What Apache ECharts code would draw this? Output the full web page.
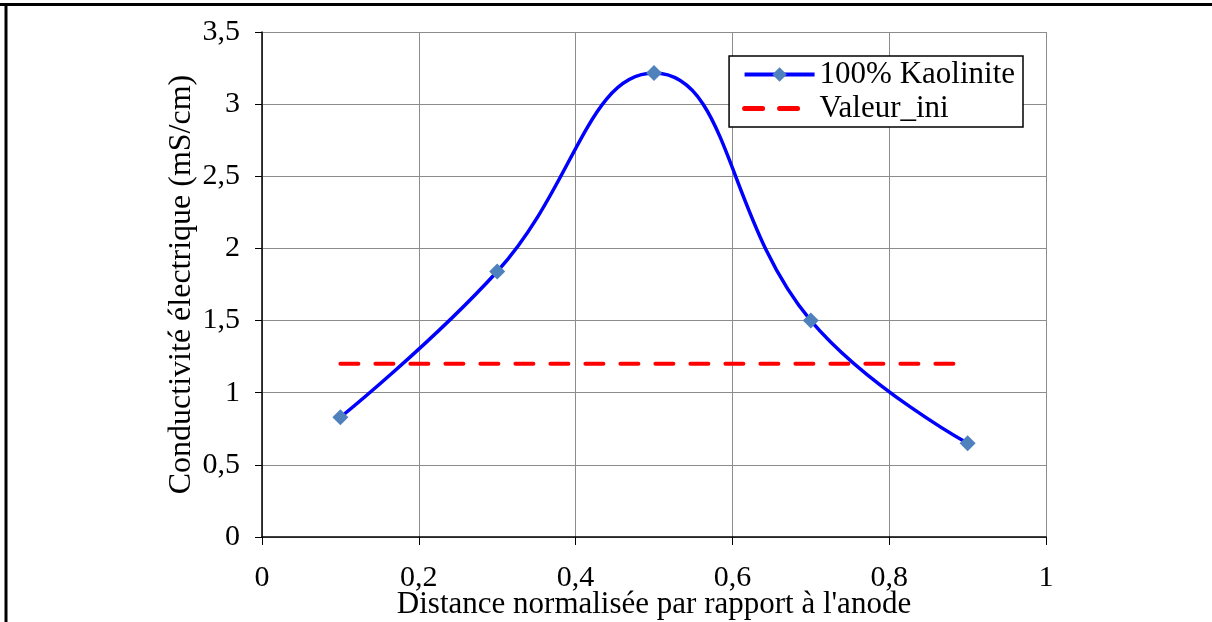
<!DOCTYPE html>
<html><head><meta charset="utf-8">
<script src="https://cdn.jsdelivr.net/npm/echarts@6/dist/echarts.min.js"></script>
<style>html,body{margin:0;padding:0;background:#fff}#c{width:1212px;height:622px}</style>
</head><body><div id="c"></div>
<script>
const xValues = [0.1, 0.3, 0.5, 0.7, 0.9];
const kaoliniteValues = [0.83, 1.84, 3.215, 1.50, 0.65];
const valeurIniValues = [1.20, 1.20];
const valeurIniX = [0.1, 0.9];
const seriesNames = ['100% Kaolinite', 'Valeur_ini'];
const xTitle = "Distance normalisée par rapport à l'anode";
const yTitle = 'Conductivité électrique (mS/cm)';

const fmt = v => String(Math.round(v*10)/10).replace('.', ',');
const font = 'Liberation Serif';
const chart = echarts.init(document.getElementById('c'), null, {renderer:'canvas'});
chart.setOption({
  animation:false,
  backgroundColor:'#fff',
  grid:{left:262,right:166,top:32,bottom:85,show:false,containLabel:false,outerBoundsMode:'none'},
  graphic:[
    {type:'line',shape:{x1:0,y1:4.5,x2:1212,y2:4.5},style:{stroke:'#000',lineWidth:3}},
    {type:'line',shape:{x1:6,y1:3,x2:6,y2:622},style:{stroke:'#000',lineWidth:3}}
  ],
  legend:{
    right:189, top:56, orient:'vertical', itemGap:3,
    backgroundColor:'#fff', borderColor:'#000', borderWidth:1.5,
    padding:[3,8,3,13], itemWidth:70, itemHeight:18,
    textStyle:{fontFamily:font,fontSize:31,color:'#000'},
    data:[
      {name:seriesNames[0], lineStyle:{width:4}},
      {name:seriesNames[1], itemStyle:{opacity:0}, lineStyle:{width:5,type:[18,17],cap:'round'}}
    ]
  },
  xAxis:{
    type:'value', min:0, max:1, interval:0.2,
    name:xTitle, nameLocation:'middle', nameGap:52, nameMoveOverlap:false,
    nameTextStyle:{fontFamily:font,fontSize:31,color:'#000'},
    axisLine:{show:true,lineStyle:{color:'#000',width:1.5}},
    axisTick:{show:true,length:8,inside:false,lineStyle:{color:'#000'}},
    axisLabel:{fontFamily:font,fontSize:30,color:'#000',margin:26,formatter:fmt},
    splitLine:{show:true,lineStyle:{color:'#8c8c8c',width:1}}
  },
  yAxis:{
    type:'value', min:0, max:3.5, interval:0.5,
    name:yTitle, nameLocation:'middle', nameGap:64, nameRotate:90, nameMoveOverlap:false,
    nameTextStyle:{fontFamily:font,fontSize:32,color:'#000'},
    axisLine:{show:true,lineStyle:{color:'#000',width:1.5}},
    axisTick:{show:true,length:7,inside:false,lineStyle:{color:'#000'}},
    axisLabel:{fontFamily:font,fontSize:30,color:'#000',margin:22,formatter:fmt},
    splitLine:{show:true,lineStyle:{color:'#8c8c8c',width:1}}
  },
  series:[
    {
      name:seriesNames[0], type:'line', smooth:0.45,
      data:xValues.map((x,i)=>[x,kaoliniteValues[i]]),
      symbol:'diamond', symbolSize:16,
      lineStyle:{color:'#0000ff',width:3.5},
      itemStyle:{color:'#4f81bd'},
      z:3
    },
    {
      name:seriesNames[1], type:'line',
      data:valeurIniX.map((x,i)=>[x,valeurIniValues[i]]),
      symbol:'none',
      lineStyle:{color:'#ff0000',width:4,type:[18,17],cap:'round'},
      itemStyle:{color:'#ff0000'},
      z:2
    }
  ]
});
</script></body></html>
